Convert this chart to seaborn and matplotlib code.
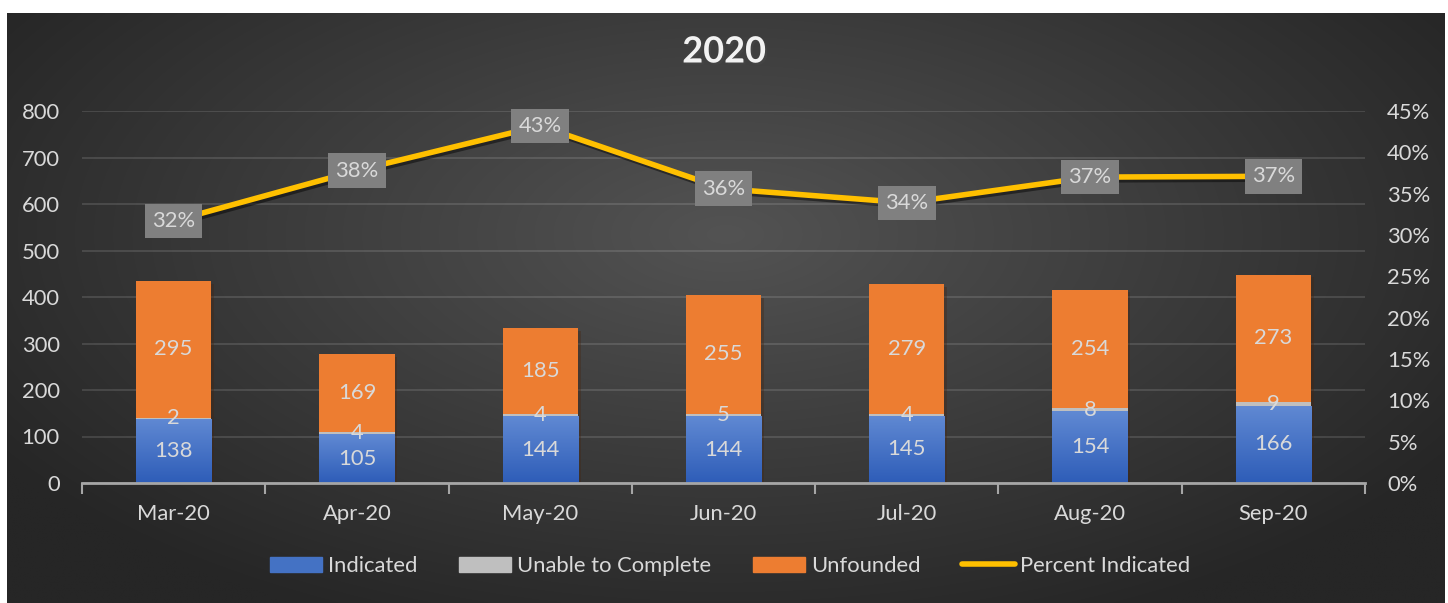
import numpy as np
import pandas as pd
import matplotlib
matplotlib.use("Agg")
import matplotlib.pyplot as plt
import matplotlib.patheffects as pe
from matplotlib.ticker import FuncFormatter, FixedLocator
import seaborn as sns

# ---- data ----
months = ["Mar-20", "Apr-20", "May-20", "Jun-20", "Jul-20", "Aug-20", "Sep-20"]
indicated = [138, 105, 144, 144, 145, 154, 166]
unable = [2, 4, 4, 5, 4, 8, 9]
unfounded = [295, 169, 185, 255, 279, 254, 273]
pct_indicated = [0.317, 0.378, 0.432, 0.356, 0.339, 0.370, 0.371]
pct_labels = ["32%", "38%", "43%", "36%", "34%", "37%", "37%"]
title = "2020"

C_BLUE = "#4472C4"
C_GRAY = "#BFBFBF"
C_ORANGE = "#ED7D31"
C_YELLOW = "#FFC000"
C_TXT = "#D9D9D9"
FS = 15.8

FONT = ["Lato", "DejaVu Sans"]
plt.rcParams["font.family"] = FONT

df = pd.DataFrame({"month": months, "ind": indicated, "una": unable, "unf": unfounded})
df["lvl2"] = df["ind"] + df["una"]
df["total"] = df["lvl2"] + df["unf"]

W, H = 1448, 603
fig = plt.figure(figsize=(W / 100, H / 100), dpi=100, facecolor="white")

# background with radial gradient
bg = fig.add_axes([7 / W, 0, (1445 - 7) / W, (H - 13) / H])
bg.set_axis_off()
yy, xx = np.mgrid[-1:1:300j, -1:1:700j]
r = np.sqrt((xx / 1.0) ** 2 + ((yy + 0.25) / 1.2) ** 2)
r = np.clip(r / 1.2, 0, 1)
c_in = np.array([0x53, 0x53, 0x53]) / 255
c_out = np.array([0x26, 0x26, 0x26]) / 255
img = c_in[None, None, :] * (1 - r[..., None]) + c_out[None, None, :] * r[..., None]
bg.imshow(img, aspect="auto", extent=[0, 1, 0, 1], interpolation="bilinear")
bg.set_xlim(0, 1)
bg.set_ylim(0, 1)

# main axes
L, R, B, T = 82, 1365, 483, 111
ax = fig.add_axes([L / W, (H - B) / H, (R - L) / W, (B - T) / H])
ax.set_facecolor("none")

bw = 0.41
shadow = [pe.SimplePatchShadow(offset=(2, -2), alpha=0.35), pe.Normal()]
sns.barplot(data=df, x="month", y="total", color=C_ORANGE, saturation=1, width=bw,
            ax=ax, errorbar=None, zorder=3)
n1 = len(ax.patches)
sns.barplot(data=df, x="month", y="lvl2", color=C_GRAY, saturation=1, width=bw,
            ax=ax, errorbar=None, zorder=3)
n2 = len(ax.patches)
sns.barplot(data=df, x="month", y="ind", color=C_BLUE, saturation=1, width=bw,
            ax=ax, errorbar=None, zorder=3)
for p in ax.patches[:n1]:
    p.set_path_effects(shadow)
    p.set_linewidth(0)
for p in ax.patches[n1:]:
    p.set_linewidth(0)

# blue gradient fill
grad = np.linspace(0, 1, 100)[:, None]
cmap = matplotlib.colors.LinearSegmentedColormap.from_list("b", ["#2E5DB8", "#6089D3"])
for p in ax.patches[n2:]:
    x0, y0 = p.get_x(), p.get_y()
    w, h = p.get_width(), p.get_height()
    im = ax.imshow(grad, cmap=cmap, aspect="auto", origin="lower",
                   extent=[x0, x0 + w, y0, y0 + h], zorder=3.5)
    im.set_clip_path(p)

ax.set_xlim(-0.5, len(months) - 0.5)
ax.set_ylim(0, 800)
ax.set_yticks(range(0, 801, 100))
ax.grid(axis="y", color="white", alpha=0.12, lw=1.5, zorder=0)
ax.set_axisbelow(True)
for s in ["top", "left", "right"]:
    ax.spines[s].set_visible(False)
ax.spines["bottom"].set_color("#A6A6A6")
ax.spines["bottom"].set_linewidth(2)
ax.spines["bottom"].set_zorder(5)
ax.tick_params(axis="y", length=0, labelsize=FS, labelcolor=C_TXT, pad=16)
ax.tick_params(axis="x", which="major", length=0, labelsize=FS, labelcolor=C_TXT, pad=15)
ax.xaxis.set_minor_locator(FixedLocator(np.arange(-0.5, len(months), 1.0)))
ax.tick_params(axis="x", which="minor", length=8, width=1.5, color="#A6A6A6")
ax.set_xlabel("")
ax.set_ylabel("")

# data labels inside segments
for i in range(len(months)):
    ind, una, unf = indicated[i], unable[i], unfounded[i]
    ax.text(i, ind / 2, f"{ind}", ha="center", va="center", color=C_TXT, fontsize=FS, zorder=6)
    ax.text(i, ind + una / 2, f"{una}", ha="center", va="center", color=C_TXT, fontsize=FS, zorder=6)
    ax.text(i, ind + una + unf / 2, f"{unf}", ha="center", va="center", color=C_TXT, fontsize=FS, zorder=6)

# secondary axis with line
ax2 = ax.twinx()
ax2.set_facecolor("none")
sns.lineplot(x=list(range(len(months))), y=pct_indicated, ax=ax2, color=C_YELLOW,
             lw=4, zorder=4,
             path_effects=[pe.SimpleLineShadow(offset=(1.5, -2), alpha=0.45), pe.Normal()])
ax2.set_ylim(0, 0.45)
ax2.set_yticks(np.arange(0, 0.451, 0.05))
ax2.yaxis.set_major_formatter(FuncFormatter(lambda v, _: f"{v * 100:.0f}%"))
ax2.tick_params(axis="y", length=0, labelsize=FS, labelcolor=C_TXT, pad=16)
for s in ["top", "left", "right", "bottom"]:
    ax2.spines[s].set_visible(False)
ax2.set_xlim(-0.5, len(months) - 0.5)
for i, (v, lab) in enumerate(zip(pct_indicated, pct_labels)):
    ax2.text(i, v, lab, ha="center", va="center", color=C_TXT, fontsize=FS, zorder=7,
             bbox=dict(boxstyle="square,pad=0.33", fc="#808080", ec="none"))

# title
fig.text(0.5, (H - 52) / H, title, ha="center", va="center", fontsize=26, fontweight="bold",
         color="#F2F2F2", family=FONT,
         path_effects=[pe.withSimplePatchShadow(offset=(1.5, -1.5), alpha=0.5)])

# legend
handles = [
    matplotlib.patches.Patch(color=C_BLUE, label="Indicated"),
    matplotlib.patches.Patch(color=C_GRAY, label="Unable to Complete"),
    matplotlib.patches.Patch(color=C_ORANGE, label="Unfounded"),
    matplotlib.lines.Line2D([], [], color=C_YELLOW, lw=4, label="Percent Indicated",
                            solid_capstyle="round"),
]
leg = fig.legend(handles=handles, loc="center", bbox_to_anchor=(730 / W, 37 / H), ncol=4,
                 frameon=False, fontsize=FS, handlelength=2.4, handleheight=0.65,
                 handletextpad=0.25, columnspacing=1.9, labelcolor=C_TXT)

fig.savefig("out.png", dpi=100, facecolor="white")
